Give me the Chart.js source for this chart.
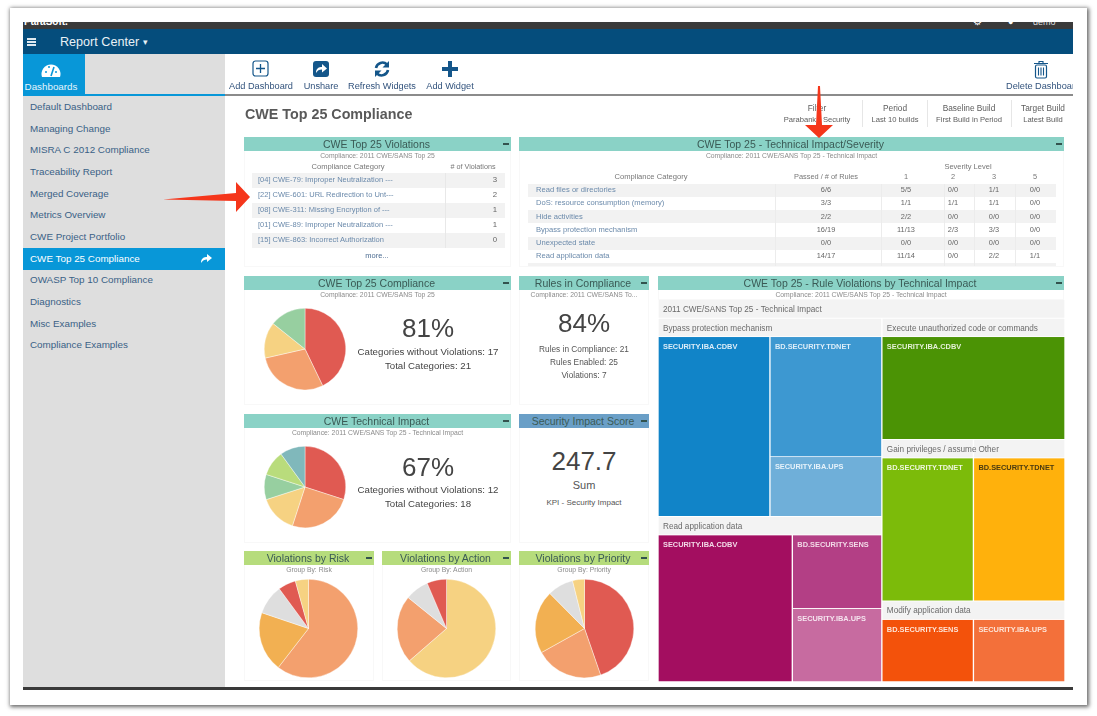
<!DOCTYPE html>
<html>
<head>
<meta charset="utf-8">
<title>CWE Top 25 Compliance</title>
<script src="https://cdn.jsdelivr.net/npm/chart.js@4"></script>
<style>
  html, body { margin: 0; padding: 0; background: #fff; overflow: hidden; }
  body { width: 1097px; height: 716px; font-family: "Liberation Sans", Arial, sans-serif; }
  #page { position: absolute; left: 0; top: 0; width: 1097px; height: 716px; filter: blur(0.65px); }
  #page div, #page canvas, #page svg { position: absolute; }
  .t { white-space: nowrap; transform: translateY(-50%); line-height: 1; }
  .c { transform: translate(-50%, -50%); }
  .r { transform: translate(-100%, -50%); }
</style>
</head>
<body>
<div id="page"></div>
<script>
// sidebar and header text
const menuItems = ["Default Dashboard", "Managing Change", "MISRA C 2012 Compliance", "Traceability Report", "Merged Coverage", "Metrics Overview", "CWE Project Portfolio", "CWE Top 25 Compliance", "OWASP Top 10 Compliance", "Diagnostics", "Misc Examples", "Compliance Examples"];
const filterTitles = ["Filter", "Period", "Baseline Build", "Target Build"];
const filterValues = ["Parabank - Security", "Last 10 builds", "First Build in Period", "Latest Build"];

// violations table
const violationNames = ["[04] CWE-79: Improper Neutralization ---", "[22] CWE-601: URL Redirection to Unt---", "[08] CWE-311: Missing Encryption of ---", "[01] CWE-89: Improper Neutralization ---", "[15] CWE-863: Incorrect Authorization"];
const violationCounts = [3, 2, 1, 1, 0];

// technical impact table
const impactNames = ["Read files or directories", "DoS: resource consumption (memory)", "Hide activities", "Bypass protection mechanism", "Unexpected state", "Read application data"];
const impactPassed = ["6/6", "3/3", "2/2", "16/19", "0/0", "14/17"];
const impactSev1 = ["5/5", "1/1", "2/2", "11/13", "0/0", "11/14"];
const impactSev2 = ["0/0", "1/1", "0/0", "2/3", "0/0", "0/0"];
const impactSev3 = ["1/1", "1/1", "0/0", "3/3", "0/0", "2/2"];
const impactSev5 = ["0/0", "0/0", "0/0", "0/0", "0/0", "1/1"];

// pies
const complianceValues = [3, 2, 1, 1];
const technicalValues = [6, 5, 3, 2, 2, 2];
const riskValues = [60.5, 19.7, 9.7, 5.8, 4.3];
const actionValues = [63.6, 22.2, 7.8, 6.4];
const priorityValues = [44.7, 22.2, 20.7, 8.5, 3.9];

// treemap leaves
const bypassValues = [3, 2, 1];
const readValues = [3, 1, 1];
const executeValues = [3];
const gainValues = [2];
const otherValues = [2];
const modifyValues = [1, 1];

const sum = a => a.reduce((s, v) => s + v, 0);
const page = document.getElementById("page");

function box(x, y, w, h, bg, extra) {
  let d = document.createElement("div");
  d.style.cssText = `left:${x}px;top:${y}px;width:${w}px;height:${h}px;background:${bg};` + (extra || "");
  page.appendChild(d);
  return d;
}

function text(str, x, y, size, color, cls, extra, parent) {
  let d = document.createElement("div");
  d.className = "t " + (cls || "");
  d.textContent = str;
  d.style.cssText = `left:${x}px;top:${y}px;font-size:${size}px;color:${color};` + (extra || "");
  (parent || page).appendChild(d);
  return d;
}

function svg(x, y, w, h, inner) {
  let wrap = document.createElement("div");
  wrap.style.cssText = `left:${x}px;top:${y}px;width:${w}px;height:${h}px;`;
  wrap.innerHTML = `<svg width="${w}" height="${h}" viewBox="0 0 ${w} ${h}" style="left:0;top:0">${inner}</svg>`;
  page.appendChild(wrap);
}

function widget(title, x0, x1, y0, bottom, subtitle, color) {
  box(x0, y0, x1 - x0, bottom - y0, "#fff", "box-sizing:border-box;border:1px solid #f8f8f8;");
  box(x0, y0, x1 - x0, 14, color);
  text(title, (x0 + x1) / 2 - 1, y0 + 7, 10.5, "#3a5a55", "c");
  box(x1 - 8, y0 + 6, 6, 1.5, "#33534e");
  text(subtitle, (x0 + x1) / 2, y0 + 19, 6.8, "#8b8b8b", "c");
}

// frame
box(10, 8, 1077, 697, "#fff", "box-shadow:1px 1px 4px 1px rgba(0,0,0,.6);");
let topBar = box(23, 22, 1050, 7, "#3a3a3a", "overflow:hidden;");
text("ParaSoft.", 1, 0, 10, "#fff", "", "font-weight:bold;", topBar);
text("⚙", 950, 0, 10, "#fff", "", "", topBar);
text("●", 985, 0, 9, "#fff", "", "", topBar);
text("demo", 1010, 0, 9, "#ddd", "", "", topBar);
box(23, 29, 1050, 25, "#054d7c");
box(27, 38, 9, 1.6, "#dfe9f0"); box(27, 41, 9, 1.6, "#dfe9f0"); box(27, 44, 9, 1.6, "#dfe9f0");
text("Report Center", 60, 42, 12.6, "#e9f1f6");
text("▾", 143, 42, 9, "#e9f1f6");

// sidebar
box(23, 54, 202, 634, "#dedede");
box(23, 54, 62, 41, "#0897d8");
box(23, 94, 202, 2, "#0897d8");
text("Dashboards", 51, 87, 9.8, "#e6f5fc", "c");
svg(41, 61, 20, 19, `<path d="M1 16 A9.5 9.5 0 1 1 19 16 Z" fill="#fff"/><path d="M10 15 L13 6" stroke="#0897d8" stroke-width="1.6"/><circle cx="5" cy="11" r="1" fill="#0897d8"/><circle cx="8" cy="6" r="1" fill="#0897d8"/><circle cx="15" cy="11" r="1" fill="#0897d8"/>`);
menuItems.forEach((name, i) => {
  let y = 107 + i * 21.65;
  if (i == 7) {
    box(23, y - 10.5, 202, 21.5, "#0897d8");
    svg(200, y - 6, 13, 11, `<path d="M1 10 C1 5 4 4 7 4 V1 L12 5 L7 9 V6.5 C4.5 6.5 2.5 7.5 1 10Z" fill="#fff"/>`);
  }
  text(name, 30, y, 9.85, i == 7 ? "#fff" : "#3a6186");
});

// toolbar
box(225, 94, 848, 1.6, "#8b8b8b");
const iconBlue = "#14568a";
svg(252, 60, 18, 18, `<rect x="1" y="1" width="15" height="15" rx="2.5" fill="none" stroke="${iconBlue}" stroke-width="1.2"/><path d="M8.5 4v9M4 8.5h9" stroke="${iconBlue}" stroke-width="1.3"/>`);
svg(312, 60, 18, 18, `<rect x="1" y="1" width="16" height="16" rx="3" fill="${iconBlue}"/><path d="M4 13 C4 8 7 7 10 7 V4 L15 8.5 L10 12.5 V9.5 C7 9.5 5.5 10.5 4 13Z" fill="#fff"/>`);
svg(373, 60, 18, 18, `<path d="M3 8 A6.5 6.5 0 0 1 14 4.5" fill="none" stroke="${iconBlue}" stroke-width="2.6"/><path d="M16 1 V7.5 H9.5Z" fill="${iconBlue}"/><path d="M15 10 A6.5 6.5 0 0 1 4 13.5" fill="none" stroke="${iconBlue}" stroke-width="2.6"/><path d="M2 17 V10.5 H8.5Z" fill="${iconBlue}"/>`);
svg(441, 60, 18, 18, `<path d="M9 1v16M1 9h16" stroke="${iconBlue}" stroke-width="4"/>`);
svg(1033, 60, 16, 19, `<rect x="2.5" y="5" width="11" height="13" rx="1.5" fill="none" stroke="${iconBlue}" stroke-width="1.2"/><path d="M1 3.5h14M6 3.5V1.5h4v2M5.5 7.5v8M8 7.5v8M10.5 7.5v8" fill="none" stroke="${iconBlue}" stroke-width="1.1"/>`);
[["Add Dashboard", 261], ["Unshare", 321], ["Refresh Widgets", 382], ["Add Widget", 450]].forEach(p => text(p[0], p[1], 87, 9.2, "#31527c", "c"));
let delClip = box(990, 80, 83, 14, "transparent", "overflow:hidden;");
text("Delete Dashboard", 16, 7, 9.2, "#31527c", "", "", delClip);

text("CWE Top 25 Compliance", 245, 114, 14.3, "#595959", "", "font-weight:bold;");

// filter summary
const filterCenters = [817, 895, 969, 1043];
filterTitles.forEach((name, i) => {
  text(name, filterCenters[i], 108, 8.3, "#5c5c5c", "c");
  text(filterValues[i], filterCenters[i], 120, 7.6, "#5c5c5c", "c");
});
[862, 927, 1011].forEach(x => box(x, 100, 1, 27, "#e6e6e6"));

// table widgets
const teal = "#8ad2c6";
widget("CWE Top 25 Violations", 244, 511, 137, 267, "Compliance: 2011 CWE/SANS Top 25", teal);
text("Compliance Category", 348, 167, 7.6, "#777", "c");
text("# of Violations", 473, 167, 7.2, "#777", "c");
violationNames.forEach((name, i) => {
  let y = 172.5 + i * 15;
  box(252, y, 253, 15, i % 2 ? "#fff" : "#f2f2f2");
  text(name, 258, y + 7.5, 7.5, "#6b8aab");
  text(String(violationCounts[i]), 497, y + 7.5, 7.8, "#666", "r");
});
box(445, 172.5, 1, 75, "#e8e8e8");
text("more...", 377, 256, 7.5, "#4d6d92", "c");

widget("CWE Top 25 - Technical Impact/Severity", 519, 1064, 137, 267, "Compliance: 2011 CWE/SANS Top 25 - Technical Impact", teal);
text("Severity Level", 968, 167, 7.5, "#777", "c");
text("Compliance Category", 651, 177, 7.6, "#777", "c");
text("Passed / # of Rules", 826, 177, 7.4, "#777", "c");
["1", "2", "3", "5"].forEach((s, i) => text(s, [906, 953, 994, 1035][i], 177, 7.4, "#777", "c"));
impactNames.forEach((name, i) => {
  let y = 183.5 + i * 13.25;
  box(528, y, 528, 13.25, i % 2 ? "#fff" : "#f2f2f2");
  text(name, 536, y + 6.6, 7.6, "#6b8aab");
  text(impactPassed[i], 826, y + 6.6, 7.4, "#666", "c");
  text(impactSev1[i], 906, y + 6.6, 7.4, "#666", "c");
  text(impactSev2[i], 953, y + 6.6, 7.4, "#666", "c");
  text(impactSev3[i], 994, y + 6.6, 7.4, "#666", "c");
  text(impactSev5[i], 1035, y + 6.6, 7.4, "#666", "c");
});
box(528, 263, 528, 3, "#f2f2f2");
[775, 881, 944, 974, 1015].forEach(x => box(x, 183.5, 1, 82, "#ececec"));

// KPI and pie widgets
widget("CWE Top 25 Compliance", 244, 511, 276, 405, "Compliance: 2011 CWE/SANS Top 25", teal);
text("81%", 428, 328, 26, "#444", "c");
text("Categories without Violations: 17", 428, 352, 9.7, "#444", "c");
text("Total Categories: 21", 428, 366, 9.7, "#444", "c");

widget("Rules in Compliance", 519, 649, 276, 405, "Compliance: 2011 CWE/SANS To...", teal);
text("84%", 584, 323, 26, "#444", "c");
text("Rules in Compliance: 21", 584, 349, 8.3, "#555", "c");
text("Rules Enabled: 25", 584, 362, 8.3, "#555", "c");
text("Violations: 7", 584, 375, 8.3, "#555", "c");

widget("CWE Technical Impact", 244, 511, 414, 543, "Compliance: 2011 CWE/SANS Top 25 - Technical Impact", teal);
text("67%", 428, 467, 26, "#444", "c");
text("Categories without Violations: 12", 428, 490, 9.7, "#444", "c");
text("Total Categories: 18", 428, 504, 9.7, "#444", "c");

widget("Security Impact Score", 519, 649, 414, 543, "", "#6a9fc7");
text("247.7", 584, 461, 26, "#444", "c");
text("Sum", 584, 485, 11, "#555", "c");
text("KPI - Security Impact", 584, 503, 8, "#555", "c");

const lime = "#b6dc7c";
widget("Violations by Risk", 244, 374, 551, 681, "Group By: Risk", lime);
widget("Violations by Action", 382, 511, 551, 681, "Group By: Action", lime);
widget("Violations by Priority", 519, 649, 551, 681, "Group By: Priority", lime);

widget("CWE Top 25 - Rule Violations by Technical Impact", 658, 1064, 276, 300, "Compliance: 2011 CWE/SANS Top 25 - Technical Impact", teal);

box(23, 687, 1050, 2.5, "#3a3a3a");

// pies
const RED = "#e05a52", ORANGE = "#f3a06e", YELLOW = "#f6d282", GREEN = "#97cfa0", LIME = "#b9dc7c", TEAL = "#80b8bb", AMBER = "#f2b052", GREY = "#dedede";

function pie(cx, cy, r, values, colors) {
  let canvas = document.createElement("canvas");
  let size = 2 * r + 2;
  canvas.width = size;
  canvas.height = size;
  canvas.style.cssText = `left:${cx - size / 2}px;top:${cy - size / 2}px;width:${size}px;height:${size}px;`;
  page.appendChild(canvas);
  new Chart(canvas.getContext("2d"), {
    type: "pie",
    data: { labels: values.map((v, i) => "Slice " + (i + 1)), datasets: [{ data: values, backgroundColor: colors, borderColor: "#fff", borderWidth: 0.4 }] },
    options: {
      responsive: false,
      animation: false,
      layout: { padding: 0 },
      plugins: { legend: { display: false }, tooltip: { enabled: false } }
    }
  });
}

pie(305, 349, 40, complianceValues, [RED, ORANGE, YELLOW, GREEN]);
pie(305, 487, 40, technicalValues, [RED, ORANGE, YELLOW, GREEN, LIME, TEAL]);
pie(308.7, 628.3, 48.5, riskValues, [ORANGE, AMBER, GREY, RED, YELLOW]);
pie(446.7, 628.3, 48.5, actionValues, [YELLOW, ORANGE, GREY, RED]);
pie(584.3, 628.3, 48.5, priorityValues, [RED, ORANGE, AMBER, GREY, YELLOW]);

// treemap: floating bars on two linear scales, group area is proportional to its values
const mapW = 407, mapH = 382, headH = 18.5;
const total = sum(bypassValues) + sum(readValues) + sum(executeValues) + sum(gainValues) + sum(otherValues) + sum(modifyValues);
const cells = [];

function addCell(label, x0, x1, y0, y1, color, textColor, header) {
  cells.push({ label, x0, x1, y0, y1, color, textColor, header });
}
function addHeader(label, x0, x1, y0) {
  addCell(label, x0, x1, y0, y0 + headH, "#f3f3f3", "#6a6a6a", true);
}

addHeader("2011 CWE/SANS Top 25 - Technical Impact", 0, total, 0);
const bodyTop = headH, bodyH = mapH - headH;
const leftW = sum(bypassValues) + sum(readValues), rightW = total - leftW;

// left column
let bypassBottom = bodyTop + bodyH * sum(bypassValues) / leftW;
addHeader("Bypass protection mechanism", 0, leftW, bodyTop);
let bypassSplit = leftW * bypassValues[0] / sum(bypassValues);
let bypassTop = bodyTop + headH;
let bypassMid = bypassTop + (bypassBottom - bypassTop) * bypassValues[1] / (bypassValues[1] + bypassValues[2]);
addCell("SECURITY.IBA.CDBV", 0, bypassSplit, bypassTop, bypassBottom, "#1184c8", "#dcedf8");
addCell("BD.SECURITY.TDNET", bypassSplit, leftW, bypassTop, bypassMid, "#3d98d1", "#dcedf8");
addCell("SECURITY.IBA.UPS", bypassSplit, leftW, bypassMid, bypassBottom, "#6fafd9", "#e6f2fa");

addHeader("Read application data", 0, leftW, bypassBottom);
let readTop = bypassBottom + headH, readBottom = mapH;
let readSplit = leftW * readValues[0] / sum(readValues);
let readMid = readTop + (readBottom - readTop) * readValues[1] / (readValues[1] + readValues[2]);
addCell("SECURITY.IBA.CDBV", 0, readSplit, readTop, readBottom, "#a30e60", "#f2d9e7");
addCell("BD.SECURITY.SENS", readSplit, leftW, readTop, readMid, "#b33f85", "#f2d9e7");
addCell("SECURITY.IBA.UPS", readSplit, leftW, readMid, readBottom, "#c76ba0", "#f5e3ee");

// right column
let execBottom = bodyTop + bodyH * sum(executeValues) / rightW;
addHeader("Execute unauthorized code or commands", leftW, total, bodyTop);
addCell("SECURITY.IBA.CDBV", leftW, total, bodyTop + headH, execBottom, "#4b9305", "#e4f0d6");
let midBottom = execBottom + bodyH * (sum(gainValues) + sum(otherValues)) / rightW;
let midSplit = leftW + rightW * sum(gainValues) / (sum(gainValues) + sum(otherValues));
addHeader("Gain privileges / assume", leftW, midSplit, execBottom);
addHeader("Other", midSplit, total, execBottom);
addCell("BD.SECURITY.TDNET", leftW, midSplit, execBottom + headH, midBottom, "#7cbb0a", "#eef6dc");
addCell("BD.SECURITY.TDNET", midSplit, total, execBottom + headH, midBottom, "#ffb10c", "#4a3a10");
let modSplit = leftW + rightW * modifyValues[0] / sum(modifyValues);
addHeader("Modify application data", leftW, total, midBottom);
addCell("BD.SECURITY.SENS", leftW, modSplit, midBottom + headH, mapH, "#f3520b", "#fde3d6");
addCell("SECURITY.IBA.UPS", modSplit, total, midBottom + headH, mapH, "#f3703a", "#fde3d6");

const cellLabels = {
  id: "cellLabels",
  afterDatasetsDraw(chart) {
    let ctx = chart.ctx;
    ctx.save();
    ctx.textBaseline = "middle";
    cells.forEach((cell, i) => {
      let bar = chart.getDatasetMeta(i).data[0];
      let left = bar.x - bar.width / 2;
      let top = Math.min(bar.y, bar.base);
      ctx.font = (cell.header ? "" : "bold ") + (cell.header ? "8.2px" : "7.4px") + ' "Liberation Sans", Arial, sans-serif';
      ctx.fillStyle = cell.textColor;
      ctx.fillText(cell.label, left + 5, top + 10);
    });
    ctx.restore();
  }
};

let mapCanvas = document.createElement("canvas");
mapCanvas.width = mapW;
mapCanvas.height = mapH;
mapCanvas.style.cssText = `left:658px;top:300px;width:${mapW}px;height:${mapH}px;`;
page.appendChild(mapCanvas);
new Chart(mapCanvas.getContext("2d"), {
  type: "bar",
  data: {
    datasets: cells.map(cell => ({
      label: cell.label,
      data: [{ x: (cell.x0 + cell.x1) / 2, y: [cell.y0, cell.y1] }],
      backgroundColor: cell.color,
      borderColor: "rgba(255,255,255,0.55)",
      borderWidth: 1,
      barThickness: (cell.x1 - cell.x0) / total * mapW
    }))
  },
  options: {
    responsive: false,
    animation: false,
    layout: { padding: 0 },
    scales: {
      x: { type: "linear", min: 0, max: total, stacked: true, display: false, offset: false },
      y: { type: "linear", min: 0, max: mapH, reverse: true, stacked: false, display: false }
    },
    plugins: { legend: { display: false }, tooltip: { enabled: false } }
  },
  plugins: [cellLabels]
});

// red annotation arrows
svg(0, 0, 1097, 716, `<polygon points="163,199.5 236,193 236,182 250,197 236,212 236,201" fill="#f5361b"/><polygon points="818,86 820,86 822,125 833,125 819,138 805,125 816,125" fill="#f5361b"/>`);
</script>
</body>
</html>
